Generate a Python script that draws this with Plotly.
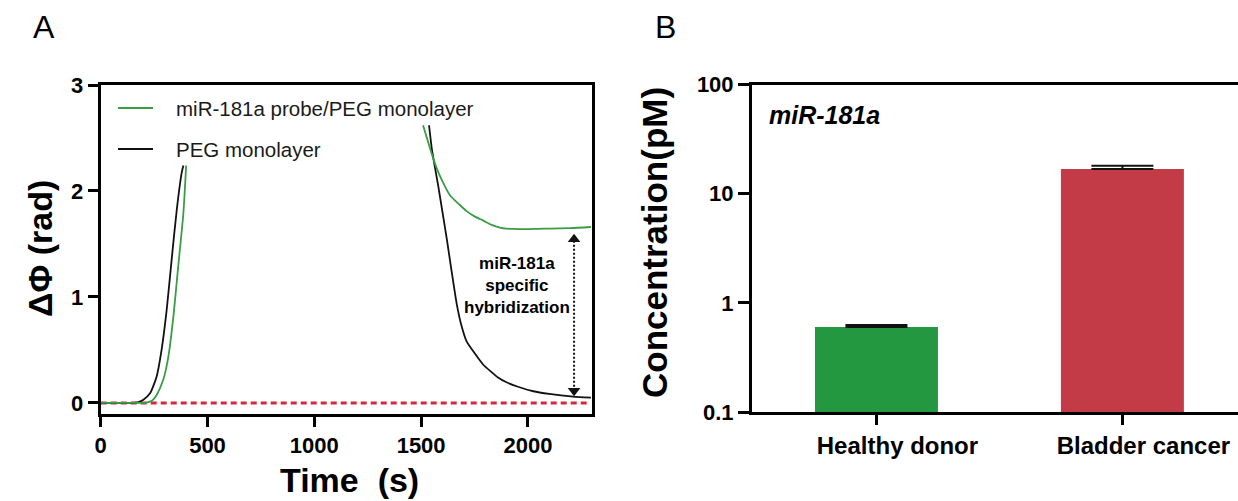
import plotly.graph_objects as go

# ---------------- Data ----------------
# Panel A: phase shift vs time (rise segment, then decay segment)
peg_rise_t = [0, 50, 100, 150, 176, 200, 231, 262, 285, 309, 332, 356, 379, 387]
peg_rise_y = [0, 0, 0, 0, 0.007, 0.03, 0.09, 0.25, 0.50, 0.88, 1.35, 1.82, 2.17, 2.24]
peg_dec_t = [1537, 1550, 1565, 1580, 1600, 1620, 1640, 1667, 1690, 1713, 1750, 1791,
             1830, 1860, 1900, 1950, 2025, 2100, 2212, 2295]
peg_dec_y = [2.62, 2.40, 2.22, 2.05, 1.80, 1.55, 1.28, 0.93, 0.72, 0.58, 0.47, 0.36,
             0.29, 0.24, 0.195, 0.155, 0.11, 0.085, 0.06, 0.05]

probe_rise_t = [0, 50, 100, 150, 200, 215, 240, 262, 293, 317, 340, 363, 387, 400]
probe_rise_y = [0, 0, 0, 0, 0, 0.003, 0.02, 0.075, 0.22, 0.44, 0.81, 1.29, 1.79, 2.24]
probe_dec_t = [1509, 1530, 1550, 1570, 1600, 1635, 1680, 1713, 1750, 1791, 1830, 1869,
               1900, 2000, 2100, 2200, 2295]
probe_dec_y = [2.62, 2.48, 2.35, 2.23, 2.09, 1.96, 1.87, 1.81, 1.76, 1.72, 1.68, 1.655,
               1.645, 1.64, 1.645, 1.65, 1.66]

baseline_t = [0, 2285]
baseline_y = [0, 0]

arrow_t = 2216
arrow_top = 1.60
arrow_bottom = 0.057

# Panel B: concentrations
categories = ["Healthy donor", "Bladder cancer"]
conc = [0.60, 16.8]
conc_err = [0.025, 1.2]
bar_colors = ["#239841", "#c43b48"]

x_ticks_a = [0, 500, 1000, 1500, 2000]
y_ticks_a = [0, 1, 2, 3]
y_ticks_b = [0.1, 1, 10, 100]
y_ticktext_b = ["0.1", "1", "10", "100"]

# ---------------- Figure ----------------
W, H = 1238, 501
FONT = "Liberation Sans, Arial, sans-serif"
GREEN = "#3a9c45"
BLACK = "#111111"

def px(x):
    return x / W

def py(y):
    return 1 - y / H

fig = go.Figure()

peg_t = peg_rise_t + [None] + peg_dec_t
peg_y = peg_rise_y + [None] + peg_dec_y
probe_t = probe_rise_t + [None] + probe_dec_t
probe_y = probe_rise_y + [None] + probe_dec_y

fig.add_trace(go.Scatter(x=baseline_t, y=baseline_y, mode="lines",
                         line=dict(color="#d42a3c", width=3, dash="6px,4px"),
                         showlegend=False, hoverinfo="skip", xaxis="x", yaxis="y"))
fig.add_trace(go.Scatter(x=peg_t, y=peg_y, mode="lines", name="PEG monolayer",
                         line=dict(color=BLACK, width=1.8, shape="spline", smoothing=0.6),
                         connectgaps=False, showlegend=False, xaxis="x", yaxis="y"))
fig.add_trace(go.Scatter(x=probe_t, y=probe_y, mode="lines",
                         name="miR-181a probe/PEG monolayer",
                         line=dict(color=GREEN, width=1.8, shape="spline", smoothing=0.6),
                         connectgaps=False, showlegend=False, xaxis="x", yaxis="y"))

# double-headed dotted arrow
ppu = 106.0  # pixels per rad unit
off = 6.0 / ppu
fig.add_trace(go.Scatter(x=[arrow_t, arrow_t],
                         y=[arrow_bottom + off, arrow_top - off],
                         mode="lines+markers",
                         line=dict(color=BLACK, width=2, dash="2px,2px"),
                         marker=dict(symbol=["triangle-down", "triangle-up"], size=11,
                                     color=BLACK),
                         showlegend=False, hoverinfo="skip", xaxis="x", yaxis="y"))

# Panel B bars
fig.add_trace(go.Bar(x=categories, y=conc, marker=dict(color=bar_colors, line=dict(width=0)),
                     width=0.5,
                     error_y=dict(type="data", symmetric=False, array=conc_err,
                                  arrayminus=[0, 0], color=BLACK, thickness=2, width=31),
                     showlegend=False, xaxis="x2", yaxis="y2"))

tickfont = dict(family=FONT, size=22, color="black", weight="bold")

fig.update_layout(
    template="none",
    width=W, height=H,
    margin=dict(l=0, r=0, t=0, b=0, autoexpand=False),
    paper_bgcolor="white", plot_bgcolor="white",
    font=dict(family=FONT, color="black"),
    xaxis=dict(domain=[px(100.7), px(592)], range=[0, 2300], automargin=False,
               tickvals=x_ticks_a, ticks="outside", ticklen=10, tickwidth=3,
               tickcolor="black", showline=True, linewidth=3, linecolor="black",
               mirror=True, showgrid=False, zeroline=False, tickfont=tickfont),
    yaxis=dict(domain=[py(413.5), py(85)], range=[-0.1, 3.0], automargin=False,
               tickvals=y_ticks_a, ticks="outside", ticklen=10, tickwidth=3,
               tickcolor="black", showline=True, linewidth=3, linecolor="black",
               mirror=True, showgrid=False, zeroline=False, tickfont=tickfont),
    xaxis2=dict(domain=[px(752), 1.0], range=[-0.506, 1.47], type="category",
                automargin=False,
                ticks="outside", ticklen=10, tickwidth=3, tickcolor="black",
                showline=True, linewidth=3, linecolor="black", mirror=True,
                showgrid=False, zeroline=False, ticklabelshift=21,
                tickfont=dict(family=FONT, size=24, color="black", weight="bold"),
                anchor="y2"),
    yaxis2=dict(domain=[py(412), py(84.5)], type="log", range=[-1, 2],
                automargin=False,
                tickvals=y_ticks_b, ticktext=y_ticktext_b,
                ticks="outside", ticklen=11, tickwidth=3, tickcolor="black",
                showline=True, linewidth=3, linecolor="black", mirror=False,
                showgrid=False, zeroline=False, tickfont=tickfont, anchor="x2"),
    bargap=0.5,
)

ann = []

def A(text, x, y, size, xanchor="center", angle=0, weight="normal", ref="paper", color="black"):
    d = dict(text=text, x=x, y=y, xref=ref, yref=ref, xanchor=xanchor, yanchor="middle",
             showarrow=False, textangle=angle,
             font=dict(family=FONT, size=size, color=color, weight=weight))
    if ref != "paper":
        d["xref"], d["yref"] = "x", "y"
    ann.append(d)

# panel labels
A("A", px(44), py(27), 32)
A("B", px(665), py(27), 32)
# axis titles
A("ΔΦ (rad)", px(40), py(249), 34, angle=-90, weight="bold")
A("Time  (s)", px(349), py(480), 34, weight="bold")
A("Concentration(pM)", px(655), py(243), 35, angle=-90, weight="bold")
# panel B inner label
A("<i>miR-181a</i>", px(767), py(115), 25, xanchor="left", weight="bold")
# arrow label
A("miR-181a<br>specific<br>hybridization", 1950, 1.11, 17, weight="bold", ref="data")
# manual legend
legend_items = [("miR-181a probe/PEG monolayer", GREEN, 109),
                ("PEG monolayer", BLACK, 150)]
shapes = []
for label, col, ypix in legend_items:
    shapes.append(dict(type="line", xref="paper", yref="paper",
                       x0=px(118), x1=px(153), y0=py(ypix - 1), y1=py(ypix - 1),
                       line=dict(color=col, width=1.8)))
    A(label, px(174), py(ypix), 20.5, xanchor="left", color="#1a1a1a")

fig.update_layout(annotations=ann, shapes=shapes)

fig.write_html("out.html")
